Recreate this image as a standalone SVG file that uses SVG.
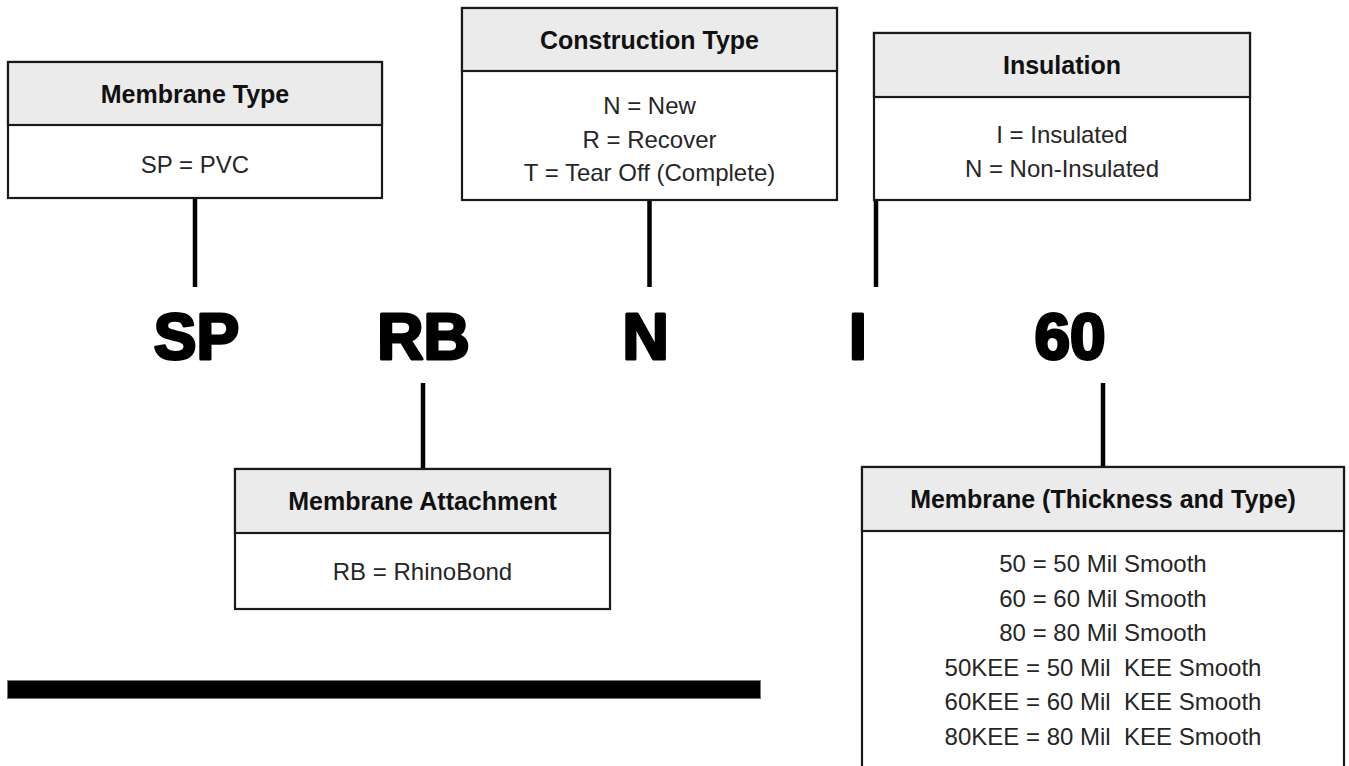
<svg xmlns="http://www.w3.org/2000/svg" width="1349" height="766" viewBox="0 0 1349 766">
<style>
.box{fill:#fff;stroke:#1a1a1a;stroke-width:2.2}
.hdr{fill:#ebebeb;stroke:#1a1a1a;stroke-width:2.2}
.ht{font-family:"Liberation Sans",Arial,sans-serif;font-weight:bold;font-size:25px;fill:#111;text-anchor:middle}
.bt{font-family:"Liberation Sans",Arial,sans-serif;font-size:24px;fill:#262626;text-anchor:middle}
.big{font-family:"Liberation Sans",Arial,sans-serif;font-weight:bold;font-size:64px;fill:#000;stroke:#000;stroke-width:3;stroke-linejoin:round;text-anchor:middle}
.conn{stroke:#000;stroke-width:4.5;fill:none}
</style>
<rect width="1349" height="766" fill="#fff"/>
<g id="connectors">
<line class="conn" x1="195" y1="198" x2="195" y2="287"/>
<line class="conn" x1="649.5" y1="200" x2="649.5" y2="287"/>
<line class="conn" x1="876" y1="200" x2="876" y2="287"/>
<line class="conn" x1="423" y1="383" x2="423" y2="469"/>
<line class="conn" x1="1103" y1="383" x2="1103" y2="467"/>
</g>
<g id="membrane-type">
<rect class="box" x="8" y="62" width="374" height="136"/>
<rect class="hdr" x="8" y="62" width="374" height="63"/>
<text class="ht" x="195" y="103">Membrane Type</text>
<text class="bt" x="195" y="173">SP = PVC</text>
</g>
<g id="construction-type">
<rect class="box" x="462" y="8" width="375" height="192"/>
<rect class="hdr" x="462" y="8" width="375" height="63"/>
<text class="ht" x="649.5" y="49">Construction Type</text>
<text class="bt" x="649.5" y="114">N = New</text>
<text class="bt" x="649.5" y="147.5">R = Recover</text>
<text class="bt" x="649.5" y="181">T = Tear Off (Complete)</text>
</g>
<g id="insulation">
<rect class="box" x="874" y="33" width="376" height="167"/>
<rect class="hdr" x="874" y="33" width="376" height="64"/>
<text class="ht" x="1062" y="74">Insulation</text>
<text class="bt" x="1062" y="143">I = Insulated</text>
<text class="bt" x="1062" y="177">N = Non-Insulated</text>
</g>
<g id="membrane-attachment">
<rect class="box" x="235" y="469" width="375" height="140"/>
<rect class="hdr" x="235" y="469" width="375" height="64"/>
<text class="ht" x="422.5" y="510">Membrane Attachment</text>
<text class="bt" x="422.5" y="580">RB = RhinoBond</text>
</g>
<g id="membrane-thickness">
<rect class="box" x="862" y="467" width="482" height="330"/>
<rect class="hdr" x="862" y="467" width="482" height="64"/>
<text class="ht" x="1103" y="508">Membrane (Thickness and Type)</text>
<text class="bt" x="1103" y="572">50 = 50 Mil Smooth</text>
<text class="bt" x="1103" y="606.5">60 = 60 Mil Smooth</text>
<text class="bt" x="1103" y="641">80 = 80 Mil Smooth</text>
<text class="bt" x="1103" y="675.5" xml:space="preserve">50KEE = 50 Mil  KEE Smooth</text>
<text class="bt" x="1103" y="710" xml:space="preserve">60KEE = 60 Mil  KEE Smooth</text>
<text class="bt" x="1103" y="744.5" xml:space="preserve">80KEE = 80 Mil  KEE Smooth</text>
</g>
<g id="code">
<text class="big" x="196.5" y="359">SP</text>
<text class="big" x="423.5" y="359">RB</text>
<text class="big" x="645.5" y="359">N</text>
<text class="big" x="858" y="359">I</text>
<text class="big" x="1070" y="359">60</text>
</g>
<rect id="bar" x="7.5" y="680.5" width="753" height="18" fill="#000" stroke="#777" stroke-width="1"/>
</svg>
